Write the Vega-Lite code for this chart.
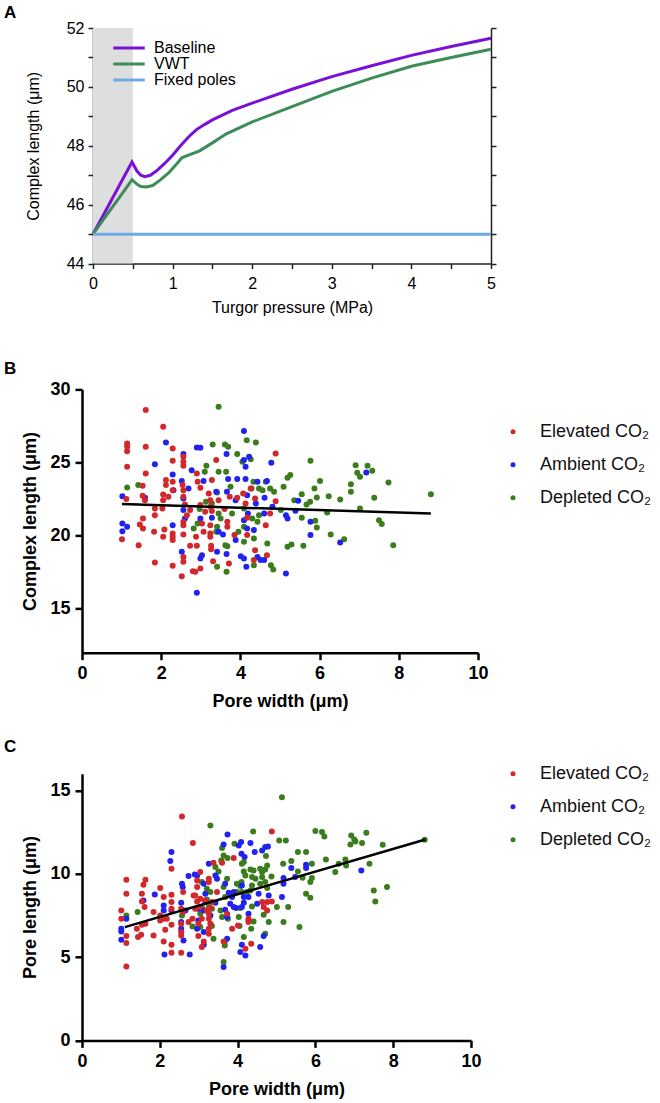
{
  "$schema": "https://vega.github.io/schema/vega-lite/v6.json",
  "background": "white",
  "padding": {"left": 4, "top": 4, "right": 2, "bottom": 2},
  "bounds": "flush",
  "spacing": 125.4,
  "config": {
    "view": {"stroke": null},
    "font": "Liberation Sans",
    "axis": {"grid": false, "labelFont": "Liberation Sans", "titleFont": "Liberation Sans", "labelFlush": false, "labelOverlap": false},
    "legend": {"labelFont": "Liberation Sans", "padding": 0},
    "title": {"font": "Liberation Sans", "fontSize": 17, "fontWeight": "bold", "anchor": "start", "frame": "group", "dx": -78, "color": "#000"}
  },
  "resolve": {"scale": {"color": "independent"}, "legend": {"color": "independent"}},
  "vconcat": [
    {
      "title": {"text": "A", "offset": -2},
      "width": 409,
      "height": 235.6,
      "layer": [
        {
          "data": {"values": [{"a": 0, "b": 0.5, "lo": 44, "hi": 52}]},
          "mark": {"type": "rect", "color": "#dedede"},
          "encoding": {
            "x": {"field": "a", "type": "quantitative", "title": "Turgor pressure (MPa)",
              "scale": {"domain": [0, 5], "range": [11, 409], "nice": false, "zero": false},
              "axis": {"values": [0, 0.5, 1, 1.5, 2, 2.5, 3, 3.5, 4, 4.5, 5], "labelExpr": "datum.value % 1 == 0 ? format(datum.value, 'd') : ''",
                "domainColor": "#222", "domainWidth": 1.5, "tickColor": "#222", "tickWidth": 1.5, "tickSize": 5,
                "labelFontSize": 16, "labelColor": "#000", "labelPadding": 7, "titleFontSize": 16, "titleFontWeight": "normal", "titleColor": "#000", "titlePadding": 8}},
            "x2": {"field": "b"},
            "y": {"field": "lo", "type": "quantitative", "title": "Complex length (μm)",
              "scale": {"domain": [44, 52], "nice": false, "zero": false},
              "axis": {"offset": -11, "values": [44, 45, 46, 47, 48, 49, 50, 51, 52], "labelExpr": "datum.value % 2 == 0 ? format(datum.value, 'd') : ''",
                "domainColor": "#222", "domainWidth": 1.5, "tickColor": "#222", "tickWidth": 1.5, "tickSize": 5,
                "labelFontSize": 16, "labelColor": "#000", "labelPadding": 4, "titleFontSize": 16, "titleFontWeight": "normal", "titleColor": "#000", "titlePadding": 25}},
            "y2": {"field": "hi"}
          }
        },
        {
          "data": {"values": [
            {"s": "Baseline", "p": 0, "v": 45.0}, {"s": "Baseline", "p": 0.1, "v": 45.5}, {"s": "Baseline", "p": 0.2, "v": 46.0}, {"s": "Baseline", "p": 0.3, "v": 46.5}, {"s": "Baseline", "p": 0.4, "v": 47.0}, {"s": "Baseline", "p": 0.49, "v": 47.45}, {"s": "Baseline", "p": 0.55, "v": 47.15}, {"s": "Baseline", "p": 0.6, "v": 47.0}, {"s": "Baseline", "p": 0.65, "v": 46.95}, {"s": "Baseline", "p": 0.72, "v": 47.0}, {"s": "Baseline", "p": 0.8, "v": 47.15}, {"s": "Baseline", "p": 0.9, "v": 47.4}, {"s": "Baseline", "p": 1.0, "v": 47.68}, {"s": "Baseline", "p": 1.1, "v": 48.0}, {"s": "Baseline", "p": 1.2, "v": 48.3}, {"s": "Baseline", "p": 1.3, "v": 48.55}, {"s": "Baseline", "p": 1.4, "v": 48.72}, {"s": "Baseline", "p": 1.5, "v": 48.88}, {"s": "Baseline", "p": 1.75, "v": 49.2}, {"s": "Baseline", "p": 2.0, "v": 49.45}, {"s": "Baseline", "p": 2.5, "v": 49.92}, {"s": "Baseline", "p": 3.0, "v": 50.35}, {"s": "Baseline", "p": 3.5, "v": 50.72}, {"s": "Baseline", "p": 4.0, "v": 51.07}, {"s": "Baseline", "p": 4.5, "v": 51.37}, {"s": "Baseline", "p": 5.0, "v": 51.65},
            {"s": "VWT", "p": 0, "v": 45.0}, {"s": "VWT", "p": 0.1, "v": 45.38}, {"s": "VWT", "p": 0.2, "v": 45.76}, {"s": "VWT", "p": 0.3, "v": 46.13}, {"s": "VWT", "p": 0.4, "v": 46.5}, {"s": "VWT", "p": 0.49, "v": 46.85}, {"s": "VWT", "p": 0.55, "v": 46.7}, {"s": "VWT", "p": 0.6, "v": 46.62}, {"s": "VWT", "p": 0.67, "v": 46.6}, {"s": "VWT", "p": 0.75, "v": 46.65}, {"s": "VWT", "p": 0.85, "v": 46.85}, {"s": "VWT", "p": 0.95, "v": 47.08}, {"s": "VWT", "p": 1.05, "v": 47.38}, {"s": "VWT", "p": 1.12, "v": 47.6}, {"s": "VWT", "p": 1.2, "v": 47.68}, {"s": "VWT", "p": 1.34, "v": 47.83}, {"s": "VWT", "p": 1.5, "v": 48.1}, {"s": "VWT", "p": 1.67, "v": 48.4}, {"s": "VWT", "p": 2.0, "v": 48.81}, {"s": "VWT", "p": 2.5, "v": 49.33}, {"s": "VWT", "p": 3.0, "v": 49.85}, {"s": "VWT", "p": 3.5, "v": 50.3}, {"s": "VWT", "p": 4.0, "v": 50.7}, {"s": "VWT", "p": 4.5, "v": 51.0}, {"s": "VWT", "p": 5.0, "v": 51.28},
            {"s": "Fixed poles", "p": 0, "v": 45.0}, {"s": "Fixed poles", "p": 5, "v": 45.0}
          ]},
          "mark": {"type": "line", "strokeWidth": 3},
          "encoding": {
            "x": {"field": "p", "type": "quantitative", "title": "Turgor pressure (MPa)"},
            "y": {"field": "v", "type": "quantitative", "title": null,
              "axis": {"orient": "right", "labels": false, "values": [44, 45, 46, 47, 48, 49, 50, 51, 52],
                "domainColor": "#222", "domainWidth": 1.5, "tickColor": "#222", "tickWidth": 1.5, "tickSize": 5}},
            "color": {"field": "s", "type": "nominal",
              "scale": {"domain": ["Baseline", "VWT", "Fixed poles"], "range": ["#7a0fd6", "#3d8c58", "#6fa8e6"]},
              "legend": {"title": null, "orient": "none", "legendX": 39, "legendY": 12, "symbolType": "M-3,0H3", "symbolSize": 110, "symbolStrokeWidth": 3,
                "labelFontSize": 16, "labelColor": "#000", "labelOffset": 17, "rowPadding": 0}}
          }
        }
      ],
      "resolve": {"axis": {"y": "independent"}}
    },
    {
      "title": {"text": "B", "offset": 2},
      "width": 396,
      "height": 258.6,
      "layer": [
        {
          "data": {"values": [
            {"g":"D","w":1.14,"c":23.3},{"g":"D","w":1.42,"c":23.46},{"g":"D","w":3.45,"c":28.81},{"g":"D","w":3.3,"c":26.24},{"g":"D","w":3.61,"c":26.24},{"g":"D","w":3.69,"c":26.08},{"g":"D","w":4.16,"c":26.53},{"g":"D","w":4.39,"c":26.37},{"g":"D","w":3.92,"c":25.58},{"g":"D","w":4.05,"c":25.05},{"g":"D","w":4.26,"c":25.23},{"g":"D","w":3.14,"c":24.78},{"g":"D","w":3.1,"c":24.37},{"g":"D","w":3.45,"c":24.37},{"g":"D","w":3.64,"c":24.37},{"g":"D","w":4.64,"c":23.68},{"g":"D","w":4.75,"c":23.23},{"g":"D","w":4.85,"c":23.0},{"g":"D","w":4.56,"c":23.11},{"g":"D","w":4.47,"c":23.23},{"g":"D","w":4.33,"c":23.68},{"g":"D","w":4.28,"c":23.23},{"g":"D","w":5.19,"c":23.96},{"g":"D","w":5.26,"c":24.14},{"g":"D","w":5.09,"c":23.34},{"g":"D","w":5.36,"c":22.43},{"g":"D","w":3.13,"c":22.32},{"g":"D","w":3.28,"c":22.2},{"g":"D","w":3.41,"c":22.96},{"g":"D","w":3.75,"c":23.34},{"g":"D","w":2.97,"c":21.82},{"g":"D","w":3.45,"c":21.52},{"g":"D","w":3.79,"c":21.52},{"g":"D","w":3.5,"c":21.18},{"g":"D","w":4.09,"c":21.86},{"g":"D","w":4.3,"c":21.18},{"g":"D","w":5.02,"c":21.75},{"g":"D","w":2.82,"c":20.49},{"g":"D","w":3.41,"c":20.61},{"g":"D","w":3.95,"c":20.26},{"g":"D","w":3.62,"c":19.35},{"g":"D","w":4.09,"c":19.58},{"g":"D","w":4.68,"c":19.47},{"g":"D","w":4.34,"c":19.81},{"g":"D","w":3.67,"c":19.28},{"g":"D","w":3.41,"c":17.87},{"g":"D","w":3.65,"c":17.53},{"g":"D","w":4.34,"c":17.98},{"g":"D","w":4.77,"c":17.98},{"g":"D","w":4.83,"c":17.69},{"g":"D","w":5.19,"c":19.24},{"g":"D","w":5.29,"c":19.4},{"g":"D","w":4.47,"c":21.4},{"g":"D","w":4.43,"c":20.95},{"g":"D","w":2.92,"c":20.83},{"g":"D","w":3.39,"c":20.26},{"g":"D","w":4.09,"c":20.61},
            {"g":"D","w":5.77,"c":25.12},{"g":"D","w":6.91,"c":24.82},{"g":"D","w":7.21,"c":24.78},{"g":"D","w":7.33,"c":24.44},{"g":"D","w":6.95,"c":24.3},{"g":"D","w":7.02,"c":24.03},{"g":"D","w":6.01,"c":23.73},{"g":"D","w":6.79,"c":23.52},{"g":"D","w":7.74,"c":23.64},{"g":"D","w":5.87,"c":23.23},{"g":"D","w":6.79,"c":23.0},{"g":"D","w":5.55,"c":22.84},{"g":"D","w":5.93,"c":22.61},{"g":"D","w":6.23,"c":22.7},{"g":"D","w":6.52,"c":22.48},{"g":"D","w":7.38,"c":22.59},{"g":"D","w":8.81,"c":22.84},{"g":"D","w":5.76,"c":22.32},{"g":"D","w":5.67,"c":22.13},{"g":"D","w":6.19,"c":21.59},{"g":"D","w":7.02,"c":21.86},{"g":"D","w":5.55,"c":21.22},{"g":"D","w":5.89,"c":21.02},{"g":"D","w":5.93,"c":20.56},{"g":"D","w":7.5,"c":21.06},{"g":"D","w":7.57,"c":20.79},{"g":"D","w":6.28,"c":20.08},{"g":"D","w":6.62,"c":19.76},{"g":"D","w":5.59,"c":19.31},{"g":"D","w":7.86,"c":19.35},
            {"g":"A","w":2.12,"c":26.37},{"g":"A","w":1.84,"c":24.89},{"g":"A","w":2.29,"c":24.19},{"g":"A","w":2.56,"c":25.58},{"g":"A","w":2.77,"c":24.48},{"g":"A","w":2.52,"c":23.73},{"g":"A","w":2.31,"c":23.11},{"g":"A","w":2.69,"c":23.23},{"g":"A","w":1.02,"c":22.7},{"g":"A","w":1.59,"c":22.59},{"g":"A","w":2.56,"c":22.54},{"g":"A","w":2.56,"c":21.75},{"g":"A","w":2.6,"c":21.18},{"g":"A","w":1.02,"c":20.83},{"g":"A","w":1.14,"c":20.61},{"g":"A","w":1.02,"c":20.31},{"g":"A","w":2.29,"c":20.72},{"g":"A","w":2.52,"c":18.9},
            {"g":"A","w":2.9,"c":26.03},{"g":"A","w":2.99,"c":26.01},{"g":"A","w":4.09,"c":27.15},{"g":"A","w":3.65,"c":25.58},{"g":"A","w":4.22,"c":25.4},{"g":"A","w":4.09,"c":25.17},{"g":"A","w":4.13,"c":24.71},{"g":"A","w":4.78,"c":24.98},{"g":"A","w":3.92,"c":23.87},{"g":"A","w":4.13,"c":23.87},{"g":"A","w":3.69,"c":23.87},{"g":"A","w":3.07,"c":23.73},{"g":"A","w":4.43,"c":23.68},{"g":"A","w":4.67,"c":23.73},{"g":"A","w":3.39,"c":23.0},{"g":"A","w":3.66,"c":23.0},{"g":"A","w":4.17,"c":22.77},{"g":"A","w":3.88,"c":22.43},{"g":"A","w":4.61,"c":22.59},{"g":"A","w":4.39,"c":22.2},{"g":"A","w":4.81,"c":21.97},{"g":"A","w":5.15,"c":21.4},{"g":"A","w":5.19,"c":21.18},{"g":"A","w":2.99,"c":21.18},{"g":"A","w":3.28,"c":21.22},{"g":"A","w":4.09,"c":21.06},{"g":"A","w":4.19,"c":21.52},{"g":"A","w":4.6,"c":21.52},{"g":"A","w":3.45,"c":20.26},{"g":"A","w":3.56,"c":20.08},{"g":"A","w":3.88,"c":19.7},{"g":"A","w":4.34,"c":20.38},{"g":"A","w":4.17,"c":20.49},{"g":"A","w":3.03,"c":18.67},{"g":"A","w":2.99,"c":18.44},{"g":"A","w":3.41,"c":18.9},{"g":"A","w":3.65,"c":18.74},{"g":"A","w":4.01,"c":18.6},{"g":"A","w":4.09,"c":18.44},{"g":"A","w":4.43,"c":18.55},{"g":"A","w":4.51,"c":18.33},{"g":"A","w":4.6,"c":18.33},{"g":"A","w":4.15,"c":17.87},{"g":"A","w":5.15,"c":17.41},{"g":"A","w":2.9,"c":16.09},
            {"g":"A","w":5.46,"c":22.38},{"g":"A","w":5.39,"c":21.7},{"g":"A","w":5.77,"c":20.95},{"g":"A","w":5.77,"c":20.04},{"g":"A","w":6.52,"c":19.53},{"g":"A","w":7.18,"c":24.32},
            {"g":"E","w":1.61,"c":28.59},{"g":"E","w":2.05,"c":27.45},{"g":"E","w":1.14,"c":26.31},{"g":"E","w":1.14,"c":26.08},{"g":"E","w":1.14,"c":25.78},{"g":"E","w":1.61,"c":26.08},{"g":"E","w":2.29,"c":25.96},{"g":"E","w":2.29,"c":25.12},{"g":"E","w":1.14,"c":24.71},{"g":"E","w":1.61,"c":24.25},{"g":"E","w":2.56,"c":25.4},{"g":"E","w":2.56,"c":25.05},{"g":"E","w":2.56,"c":24.78},{"g":"E","w":2.12,"c":23.8},{"g":"E","w":2.29,"c":23.68},{"g":"E","w":2.12,"c":23.46},{"g":"E","w":2.29,"c":23.11},{"g":"E","w":1.53,"c":23.41},{"g":"E","w":2.54,"c":23.46},{"g":"E","w":2.56,"c":23.11},{"g":"E","w":1.53,"c":22.73},{"g":"E","w":1.59,"c":22.43},{"g":"E","w":1.12,"c":22.5},{"g":"E","w":2.05,"c":22.82},{"g":"E","w":2.18,"c":22.66},{"g":"E","w":2.05,"c":22.43},{"g":"E","w":1.84,"c":21.86},{"g":"E","w":2.03,"c":21.86},{"g":"E","w":1.84,"c":21.4},{"g":"E","w":2.56,"c":22.66},{"g":"E","w":2.6,"c":22.13},{"g":"E","w":2.73,"c":21.75},{"g":"E","w":2.65,"c":21.4},{"g":"E","w":1.54,"c":21.18},{"g":"E","w":1.46,"c":20.77},{"g":"E","w":1.54,"c":20.49},{"g":"E","w":1.82,"c":20.26},{"g":"E","w":2.08,"c":20.42},{"g":"E","w":2.29,"c":20.15},{"g":"E","w":2.29,"c":19.92},{"g":"E","w":2.29,"c":19.7},{"g":"E","w":2.05,"c":19.92},{"g":"E","w":2.56,"c":20.95},{"g":"E","w":2.56,"c":20.72},{"g":"E","w":2.56,"c":20.08},{"g":"E","w":1.01,"c":19.76},{"g":"E","w":1.43,"c":19.35},{"g":"E","w":2.73,"c":19.31},{"g":"E","w":2.56,"c":18.55},{"g":"E","w":2.56,"c":18.21},{"g":"E","w":1.84,"c":18.17},{"g":"E","w":2.29,"c":17.94},{"g":"E","w":2.52,"c":17.23},{"g":"E","w":2.8,"c":17.57},
            {"g":"E","w":2.9,"c":24.25},{"g":"E","w":3.39,"c":25.17},{"g":"E","w":4.89,"c":25.62},{"g":"E","w":2.92,"c":23.68},{"g":"E","w":2.99,"c":23.27},{"g":"E","w":3.28,"c":23.8},{"g":"E","w":3.2,"c":22.89},{"g":"E","w":3.24,"c":22.43},{"g":"E","w":3.45,"c":22.43},{"g":"E","w":3.92,"c":22.59},{"g":"E","w":4.07,"c":22.89},{"g":"E","w":4.26,"c":23.23},{"g":"E","w":4.37,"c":22.54},{"g":"E","w":4.89,"c":22.36},{"g":"E","w":3.73,"c":22.66},{"g":"E","w":2.99,"c":22.09},{"g":"E","w":3.24,"c":21.97},{"g":"E","w":3.11,"c":21.63},{"g":"E","w":3.28,"c":21.68},{"g":"E","w":3.6,"c":21.82},{"g":"E","w":4.13,"c":22.2},{"g":"E","w":4.17,"c":21.22},{"g":"E","w":4.75,"c":21.52},{"g":"E","w":3.03,"c":20.83},{"g":"E","w":3.24,"c":20.72},{"g":"E","w":3.67,"c":20.95},{"g":"E","w":3.67,"c":20.61},{"g":"E","w":3.07,"c":20.26},{"g":"E","w":3.24,"c":20.15},{"g":"E","w":3.24,"c":19.92},{"g":"E","w":2.88,"c":19.92},{"g":"E","w":3.85,"c":20.04},{"g":"E","w":4.17,"c":20.04},{"g":"E","w":4.64,"c":20.72},{"g":"E","w":2.9,"c":19.31},{"g":"E","w":3.26,"c":19.31},{"g":"E","w":3.26,"c":19.08},{"g":"E","w":4.37,"c":19.01},{"g":"E","w":4.67,"c":18.67},{"g":"E","w":4.34,"c":18.33},{"g":"E","w":3.31,"c":18.26},{"g":"E","w":3.71,"c":18.1},{"g":"E","w":2.86,"c":17.53},{"g":"E","w":2.99,"c":17.76}
          ]},
          "mark": {"type": "circle", "size": 36, "opacity": 1},
          "encoding": {
            "x": {"field": "w", "type": "quantitative", "title": "Pore width (μm)",
              "scale": {"domain": [0, 10], "nice": false, "zero": false},
              "axis": {"values": [0, 2, 4, 6, 8, 10], "offset": 4.7, "domainColor": "#000", "domainWidth": 2.5, "tickColor": "#000", "tickWidth": 2.5, "tickSize": 7,
                "labelFontSize": 18, "labelFontWeight": "bold", "labelColor": "#000", "labelPadding": 5, "titleFontSize": 18, "titleFontWeight": "bold", "titleColor": "#000", "titlePadding": 10}},
            "y": {"field": "c", "type": "quantitative", "title": "Complex length (μm)",
              "scale": {"domain": [12, 30], "range": [263.3, 0], "nice": false, "zero": false},
              "axis": {"values": [15, 20, 25, 30], "domainColor": "#000", "domainWidth": 2.5, "tickColor": "#000", "tickWidth": 2.5, "tickSize": 7,
                "labelFontSize": 18, "labelFontWeight": "bold", "labelColor": "#000", "labelPadding": 5, "titleFontSize": 18, "titleFontWeight": "bold", "titleColor": "#000", "titlePadding": 10}},
            "color": {"field": "g", "type": "nominal",
              "scale": {"domain": ["E", "A", "D"], "range": ["#d2282c", "#2222f0", "#3b7d1c"]},
              "legend": {"title": null, "orient": "none", "legendX": 422, "legendY": 33.3, "symbolType": "circle", "symbolSize": 25, "symbolStrokeWidth": 0,
                "labelFontSize": 18, "labelColor": "#111", "labelOffset": 18, "rowPadding": 15,
                "labelExpr": "datum.label == 'E' ? 'Elevated CO₂' : datum.label == 'A' ? 'Ambient CO₂' : 'Depleted CO₂'"}}
          }
        },
        {
          "data": {"values": [{"x1": 1.01, "y1": 22.16, "x2": 8.81, "y2": 21.52}]},
          "mark": {"type": "rule", "strokeWidth": 2.5, "color": "#000"},
          "encoding": {
            "x": {"field": "x1", "type": "quantitative", "title": "Pore width (μm)"},
            "y": {"field": "y1", "type": "quantitative", "title": "Complex length (μm)"},
            "x2": {"field": "x2"},
            "y2": {"field": "y2"}
          }
        }
      ]
    },
    {
      "title": {"text": "C", "offset": 9},
      "width": 389,
      "height": 266.6,
      "layer": [
        {
          "data": {"values": [
            {"g":"D","w":1.14,"p":7.5},{"g":"D","w":1.43,"p":7.7},{"g":"D","w":2.57,"p":7.5},{"g":"D","w":2.84,"p":6.84},
            {"g":"D","w":5.14,"p":14.6},{"g":"D","w":3.3,"p":12.9},{"g":"D","w":4.4,"p":12.54},{"g":"D","w":5.07,"p":12.0},{"g":"D","w":5.24,"p":12.0},{"g":"D","w":3.6,"p":11.54},{"g":"D","w":3.92,"p":11.8},{"g":"D","w":3.64,"p":11.1},{"g":"D","w":3.74,"p":10.94},{"g":"D","w":3.58,"p":10.8},{"g":"D","w":4.11,"p":10.6},{"g":"D","w":4.16,"p":10.7},{"g":"D","w":4.73,"p":11.06},{"g":"D","w":4.76,"p":10.5},{"g":"D","w":4.58,"p":10.3},{"g":"D","w":4.71,"p":10.26},{"g":"D","w":4.41,"p":10.2},{"g":"D","w":4.33,"p":10.26},{"g":"D","w":4.63,"p":10.1},{"g":"D","w":5.38,"p":10.76},{"g":"D","w":5.17,"p":10.6},{"g":"D","w":3.43,"p":10.4},{"g":"D","w":3.51,"p":10.14},{"g":"D","w":4.16,"p":10.14},{"g":"D","w":4.2,"p":9.9},{"g":"D","w":4.37,"p":9.8},{"g":"D","w":4.46,"p":9.7},{"g":"D","w":4.63,"p":9.8},{"g":"D","w":4.87,"p":9.84},{"g":"D","w":4.71,"p":9.5},{"g":"D","w":4.58,"p":9.4},{"g":"D","w":4.1,"p":9.5},{"g":"D","w":3.98,"p":9.4},{"g":"D","w":3.73,"p":9.7},{"g":"D","w":3.64,"p":9.2},{"g":"D","w":3.08,"p":9.5},{"g":"D","w":3.21,"p":9.1},{"g":"D","w":3.3,"p":8.9},{"g":"D","w":3.68,"p":8.6},{"g":"D","w":3.98,"p":8.9},{"g":"D","w":4.11,"p":8.9},{"g":"D","w":4.24,"p":8.9},{"g":"D","w":4.33,"p":9.0},{"g":"D","w":4.37,"p":9.3},{"g":"D","w":4.07,"p":9.26},{"g":"D","w":4.76,"p":9.14},{"g":"D","w":3.21,"p":8.46},{"g":"D","w":3.08,"p":8.0},{"g":"D","w":3.04,"p":7.6},{"g":"D","w":3.34,"p":7.9},{"g":"D","w":3.56,"p":7.8},{"g":"D","w":3.6,"p":7.4},{"g":"D","w":3.75,"p":7.3},{"g":"D","w":4.07,"p":7.94},{"g":"D","w":4.37,"p":8.04},{"g":"D","w":5.01,"p":8.0},{"g":"D","w":5.3,"p":8.0},{"g":"D","w":4.03,"p":7.4},{"g":"D","w":4.28,"p":7.2},{"g":"D","w":4.41,"p":7.14},{"g":"D","w":4.67,"p":7.54},{"g":"D","w":4.8,"p":7.1},{"g":"D","w":5.18,"p":7.1},{"g":"D","w":3.04,"p":6.8},{"g":"D","w":3.34,"p":6.86},{"g":"D","w":3.38,"p":6.1},{"g":"D","w":4.05,"p":6.86},{"g":"D","w":4.35,"p":6.7},{"g":"D","w":4.71,"p":6.4},{"g":"D","w":4.16,"p":6.2},{"g":"D","w":3.67,"p":5.7},{"g":"D","w":3.67,"p":5.9},{"g":"D","w":3.64,"p":4.7},{"g":"D","w":3.26,"p":8.0},
            {"g":"D","w":6.0,"p":12.56},{"g":"D","w":6.17,"p":12.5},{"g":"D","w":6.23,"p":12.24},{"g":"D","w":6.92,"p":12.3},{"g":"D","w":7.0,"p":12.06},{"g":"D","w":7.03,"p":11.94},{"g":"D","w":6.9,"p":11.76},{"g":"D","w":7.31,"p":12.46},{"g":"D","w":7.2,"p":11.84},{"g":"D","w":7.73,"p":11.74},{"g":"D","w":8.81,"p":12.04},{"g":"D","w":5.55,"p":11.3},{"g":"D","w":5.76,"p":11.3},{"g":"D","w":6.27,"p":10.86},{"g":"D","w":5.91,"p":10.6},{"g":"D","w":6.6,"p":10.6},{"g":"D","w":6.77,"p":10.86},{"g":"D","w":6.79,"p":10.5},{"g":"D","w":6.51,"p":10.1},{"g":"D","w":7.39,"p":10.6},{"g":"D","w":5.55,"p":10.14},{"g":"D","w":5.67,"p":9.76},{"g":"D","w":5.91,"p":9.74},{"g":"D","w":5.87,"p":9.5},{"g":"D","w":5.76,"p":8.8},{"g":"D","w":5.87,"p":8.56},{"g":"D","w":7.5,"p":9.0},{"g":"D","w":7.84,"p":9.2},{"g":"D","w":7.54,"p":8.34},{"g":"D","w":5.59,"p":6.8},
            {"g":"A","w":2.3,"p":11.3},{"g":"A","w":2.27,"p":10.76},{"g":"A","w":2.74,"p":9.86},{"g":"A","w":2.9,"p":9.96},{"g":"A","w":2.57,"p":9.4},{"g":"A","w":2.59,"p":9.2},{"g":"A","w":1.87,"p":8.76},{"g":"A","w":1.58,"p":8.4},{"g":"A","w":2.1,"p":8.1},{"g":"A","w":2.1,"p":7.8},{"g":"A","w":2.3,"p":7.8},{"g":"A","w":2.55,"p":8.26},{"g":"A","w":2.66,"p":7.8},{"g":"A","w":1.14,"p":7.3},{"g":"A","w":1.01,"p":6.7},{"g":"A","w":1.01,"p":6.54},{"g":"A","w":1.01,"p":6.04},{"g":"A","w":2.55,"p":7.1},{"g":"A","w":2.55,"p":6.7},{"g":"A","w":2.61,"p":6.0},{"g":"A","w":2.12,"p":5.16},{"g":"A","w":2.77,"p":5.16},
            {"g":"A","w":3.74,"p":12.36},{"g":"A","w":3.64,"p":11.76},{"g":"A","w":4.03,"p":11.7},{"g":"A","w":4.09,"p":11.9},{"g":"A","w":4.33,"p":11.84},{"g":"A","w":4.63,"p":11.4},{"g":"A","w":4.71,"p":11.6},{"g":"A","w":4.78,"p":11.64},{"g":"A","w":4.44,"p":11.3},{"g":"A","w":4.1,"p":11.2},{"g":"A","w":4.18,"p":11.0},{"g":"A","w":3.26,"p":10.6},{"g":"A","w":3.43,"p":9.9},{"g":"A","w":3.47,"p":9.7},{"g":"A","w":5.38,"p":10.34},{"g":"A","w":5.18,"p":9.74},{"g":"A","w":5.18,"p":9.4},{"g":"A","w":3.68,"p":9.4},{"g":"A","w":3.77,"p":8.86},{"g":"A","w":2.96,"p":9.9},{"g":"A","w":3.13,"p":9.4},{"g":"A","w":3.17,"p":8.8},{"g":"A","w":4.11,"p":9.3},{"g":"A","w":3.9,"p":8.9},{"g":"A","w":3.86,"p":8.6},{"g":"A","w":4.16,"p":8.6},{"g":"A","w":4.28,"p":8.6},{"g":"A","w":4.54,"p":8.8},{"g":"A","w":4.8,"p":8.7},{"g":"A","w":5.14,"p":8.6},{"g":"A","w":3.17,"p":8.3},{"g":"A","w":3.43,"p":8.26},{"g":"A","w":3.81,"p":8.2},{"g":"A","w":4.16,"p":8.26},{"g":"A","w":3.9,"p":8.0},{"g":"A","w":3.96,"p":7.94},{"g":"A","w":4.11,"p":8.0},{"g":"A","w":4.5,"p":8.2},{"g":"A","w":2.99,"p":7.9},{"g":"A","w":3.13,"p":7.8},{"g":"A","w":3.3,"p":7.5},{"g":"A","w":3.68,"p":7.84},{"g":"A","w":3.73,"p":7.4},{"g":"A","w":2.99,"p":7.2},{"g":"A","w":2.96,"p":6.7},{"g":"A","w":3.13,"p":6.5},{"g":"A","w":3.73,"p":6.1},{"g":"A","w":4.28,"p":7.6},{"g":"A","w":4.67,"p":6.26},{"g":"A","w":3.13,"p":5.74},{"g":"A","w":4.11,"p":5.74},{"g":"A","w":4.07,"p":5.3},{"g":"A","w":4.2,"p":5.1},{"g":"A","w":4.58,"p":5.6},{"g":"A","w":3.64,"p":4.4},
            {"g":"A","w":5.76,"p":10.54},{"g":"A","w":5.76,"p":10.34},{"g":"A","w":7.18,"p":10.2},{"g":"A","w":5.48,"p":9.8},
            {"g":"E","w":2.57,"p":13.44},{"g":"E","w":2.85,"p":11.84},{"g":"E","w":2.3,"p":10.3},{"g":"E","w":1.14,"p":9.64},{"g":"E","w":1.63,"p":9.64},{"g":"E","w":1.58,"p":9.34},{"g":"E","w":1.14,"p":8.8},{"g":"E","w":1.54,"p":8.8},{"g":"E","w":2.01,"p":9.14},{"g":"E","w":2.1,"p":8.6},{"g":"E","w":2.3,"p":8.74},{"g":"E","w":2.6,"p":8.9},{"g":"E","w":1.54,"p":8.34},{"g":"E","w":1.61,"p":8.0},{"g":"E","w":2.3,"p":8.3},{"g":"E","w":2.3,"p":7.9},{"g":"E","w":1.01,"p":7.8},{"g":"E","w":1.01,"p":7.3},{"g":"E","w":1.84,"p":7.7},{"g":"E","w":2.01,"p":7.5},{"g":"E","w":2.01,"p":7.2},{"g":"E","w":2.1,"p":7.3},{"g":"E","w":2.18,"p":7.3},{"g":"E","w":2.55,"p":7.9},{"g":"E","w":2.6,"p":7.7},{"g":"E","w":1.63,"p":7.0},{"g":"E","w":1.54,"p":6.94},{"g":"E","w":1.41,"p":6.7},{"g":"E","w":1.14,"p":6.26},{"g":"E","w":1.14,"p":5.84},{"g":"E","w":1.44,"p":6.2},{"g":"E","w":1.52,"p":6.34},{"g":"E","w":1.84,"p":6.3},{"g":"E","w":2.14,"p":6.64},{"g":"E","w":2.3,"p":6.94},{"g":"E","w":2.1,"p":5.94},{"g":"E","w":2.3,"p":5.74},{"g":"E","w":2.3,"p":5.26},{"g":"E","w":2.55,"p":5.26},{"g":"E","w":2.55,"p":7.0},{"g":"E","w":2.55,"p":6.5},{"g":"E","w":2.55,"p":6.3},{"g":"E","w":1.14,"p":4.44},{"g":"E","w":2.84,"p":7.3},{"g":"E","w":2.74,"p":7.1},{"g":"E","w":2.87,"p":8.7},
            {"g":"E","w":4.88,"p":12.54},{"g":"E","w":3.38,"p":10.66},{"g":"E","w":3.6,"p":10.66},{"g":"E","w":3.9,"p":10.94},{"g":"E","w":3.04,"p":10.1},{"g":"E","w":2.96,"p":9.6},{"g":"E","w":3.26,"p":9.7},{"g":"E","w":3.26,"p":9.5},{"g":"E","w":3.47,"p":8.9},{"g":"E","w":2.96,"p":9.2},{"g":"E","w":2.91,"p":8.7},{"g":"E","w":3.04,"p":8.5},{"g":"E","w":3.17,"p":8.4},{"g":"E","w":3.34,"p":8.3},{"g":"E","w":2.96,"p":8.34},{"g":"E","w":2.91,"p":7.9},{"g":"E","w":3.04,"p":8.0},{"g":"E","w":3.21,"p":7.8},{"g":"E","w":3.3,"p":7.94},{"g":"E","w":3.26,"p":7.6},{"g":"E","w":3.08,"p":7.3},{"g":"E","w":3.26,"p":7.3},{"g":"E","w":3.3,"p":7.0},{"g":"E","w":2.99,"p":7.0},{"g":"E","w":4.63,"p":8.3},{"g":"E","w":4.76,"p":8.3},{"g":"E","w":4.88,"p":8.34},{"g":"E","w":4.67,"p":8.0},{"g":"E","w":4.76,"p":7.8},{"g":"E","w":3.26,"p":6.7},{"g":"E","w":3.26,"p":6.4},{"g":"E","w":3.86,"p":6.7},{"g":"E","w":2.99,"p":6.26},{"g":"E","w":3.13,"p":5.94},{"g":"E","w":3.08,"p":5.6},{"g":"E","w":3.64,"p":5.94},{"g":"E","w":4.28,"p":7.3},{"g":"E","w":4.28,"p":7.1},{"g":"E","w":4.35,"p":5.8},{"g":"E","w":4.2,"p":5.5},{"g":"E","w":4.01,"p":6.9},{"g":"E","w":3.73,"p":7.6}
          ]},
          "mark": {"type": "circle", "size": 36, "opacity": 1},
          "encoding": {
            "x": {"field": "w", "type": "quantitative", "title": "Pore width (μm)",
              "scale": {"domain": [0, 10], "nice": false, "zero": false},
              "axis": {"values": [0, 2, 4, 6, 8, 10], "domainColor": "#000", "domainWidth": 2.5, "tickColor": "#000", "tickWidth": 2.5, "tickSize": 7,
                "labelFontSize": 18, "labelFontWeight": "bold", "labelColor": "#000", "labelPadding": 5, "titleFontSize": 18, "titleFontWeight": "bold", "titleColor": "#000", "titlePadding": 10}},
            "y": {"field": "p", "type": "quantitative", "title": "Pore length (μm)",
              "scale": {"domain": [0, 16], "nice": false, "zero": false},
              "axis": {"values": [0, 5, 10, 15], "domainColor": "#000", "domainWidth": 2.5, "tickColor": "#000", "tickWidth": 2.5, "tickSize": 7,
                "labelFontSize": 18, "labelFontWeight": "bold", "labelColor": "#000", "labelPadding": 5, "titleFontSize": 18, "titleFontWeight": "bold", "titleColor": "#000", "titlePadding": 10}},
            "color": {"field": "g", "type": "nominal",
              "scale": {"domain": ["E", "A", "D"], "range": ["#d2282c", "#2222f0", "#3b7d1c"]},
              "legend": {"title": null, "orient": "none", "legendX": 422, "legendY": -9, "symbolType": "circle", "symbolSize": 25, "symbolStrokeWidth": 0,
                "labelFontSize": 18, "labelColor": "#111", "labelOffset": 18, "rowPadding": 15,
                "labelExpr": "datum.label == 'E' ? 'Elevated CO₂' : datum.label == 'A' ? 'Ambient CO₂' : 'Depleted CO₂'"}}
          }
        },
        {
          "data": {"values": [{"x1": 1.1, "y1": 6.8, "x2": 8.83, "y2": 12.06}]},
          "mark": {"type": "rule", "strokeWidth": 2.5, "color": "#000"},
          "encoding": {
            "x": {"field": "x1", "type": "quantitative", "title": "Pore width (μm)"},
            "y": {"field": "y1", "type": "quantitative", "title": "Pore length (μm)"},
            "x2": {"field": "x2"},
            "y2": {"field": "y2"}
          }
        }
      ]
    }
  ]
}
